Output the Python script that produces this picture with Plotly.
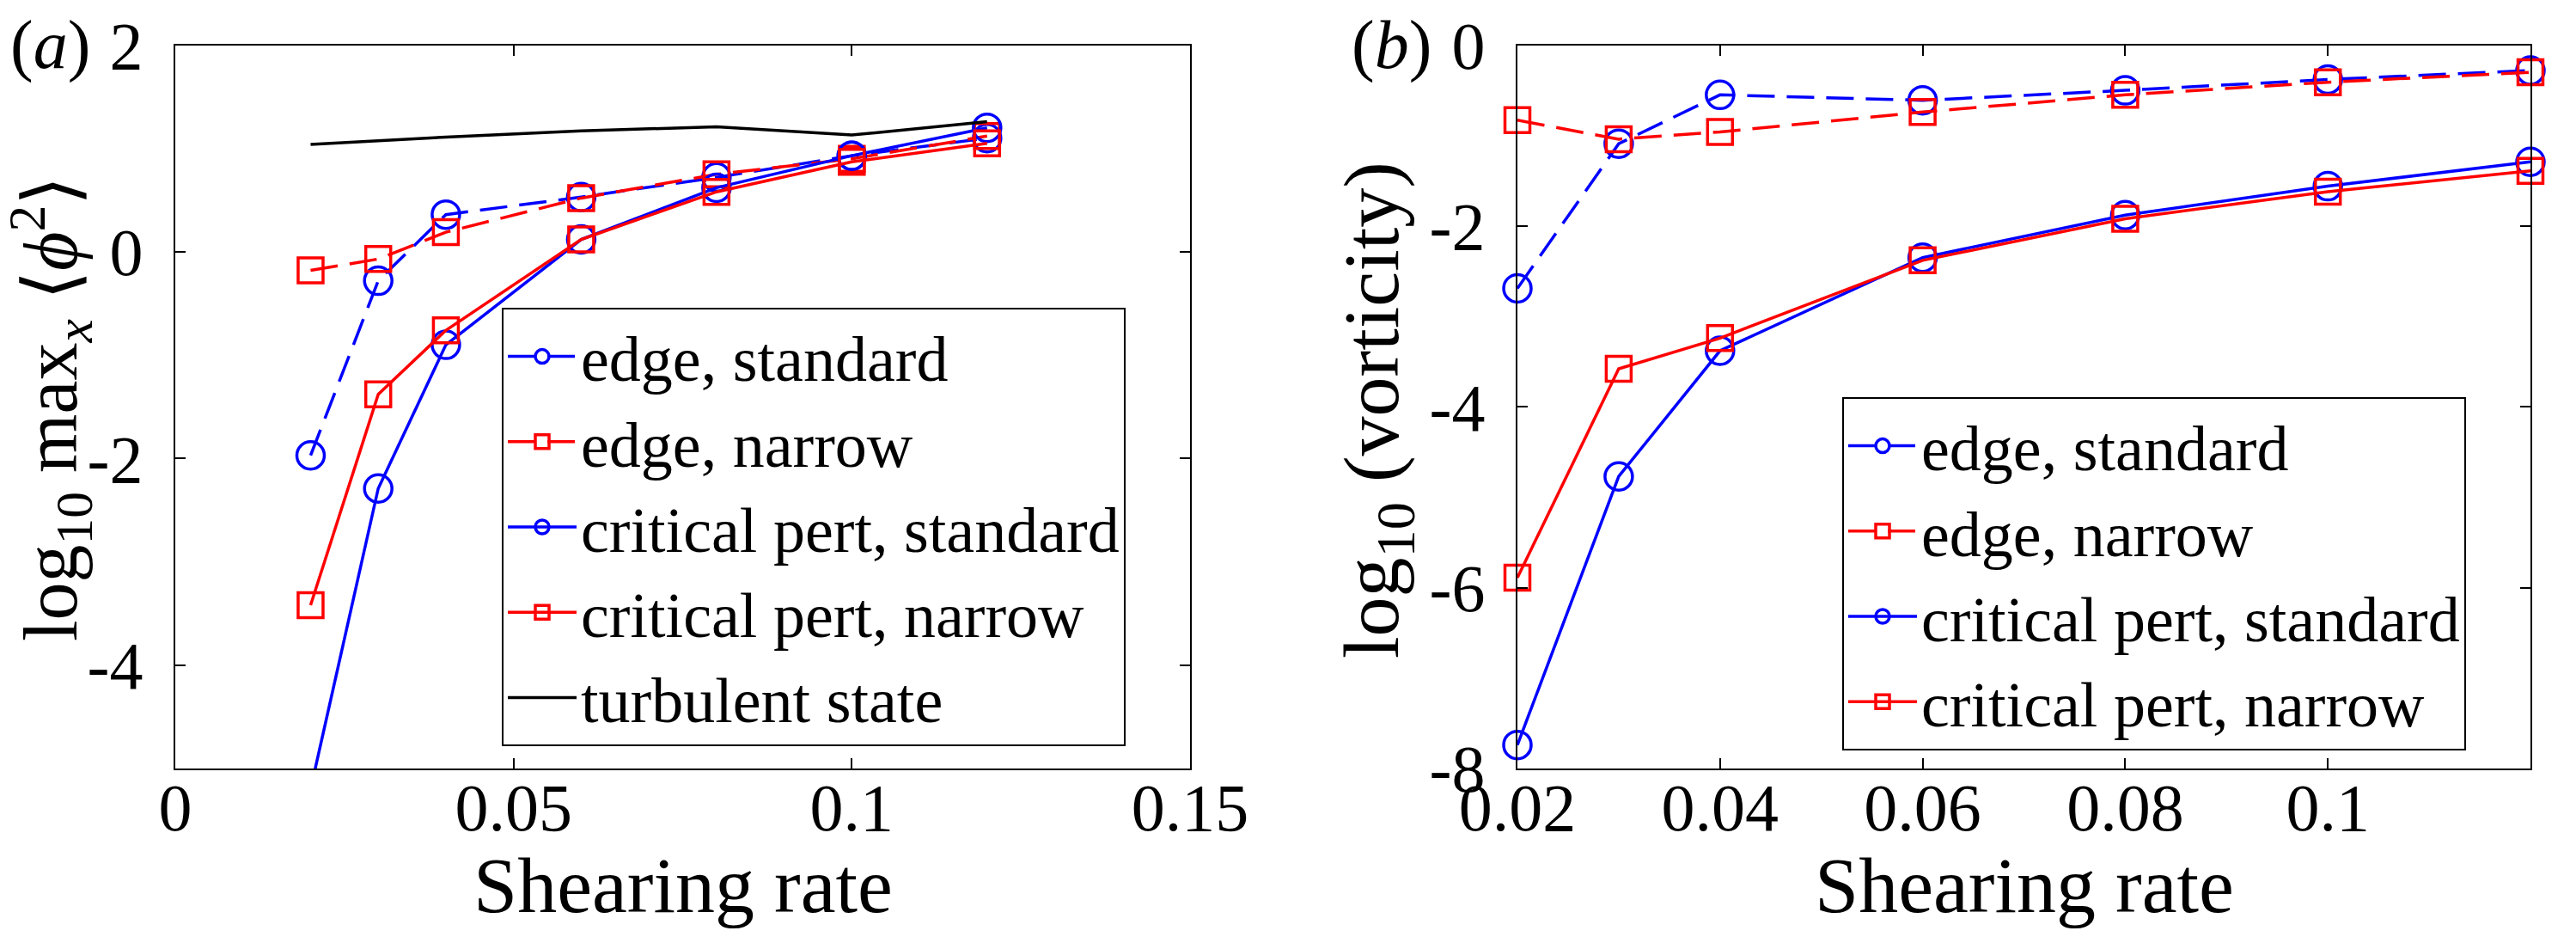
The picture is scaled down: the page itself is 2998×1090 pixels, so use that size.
import plotly.graph_objects as go

# shearing rates
shear = [0.02, 0.03, 0.04, 0.06, 0.08, 0.10, 0.12]
turb_shear = [0.02, 0.04, 0.06, 0.08, 0.10, 0.12]

# (a) log10 max_x <phi^2>
a_edge_std = [-1.97, -0.28, 0.36, 0.53, 0.72, 0.93, 1.10]
a_edge_narrow = [-0.18, -0.07, 0.19, 0.52, 0.75, 0.90, 1.12]
a_crit_std = [-5.2, -2.29, -0.90, 0.12, 0.62, 0.93, 1.20]
a_crit_narrow = [-3.42, -1.38, -0.76, 0.12, 0.58, 0.87, 1.05]
a_turb = [1.04, 1.11, 1.17, 1.21, 1.13, 1.26]

# (b) log10 (vorticity)
b_edge_std = [-2.69, -1.09, -0.55, -0.61, -0.50, -0.38, -0.28]
b_edge_narrow = [-0.83, -1.04, -0.96, -0.74, -0.55, -0.41, -0.30]
b_crit_std = [-7.74, -4.77, -3.38, -2.35, -1.88, -1.56, -1.29]
b_crit_narrow = [-5.89, -3.58, -3.24, -2.38, -1.92, -1.62, -1.39]

names = ["edge, standard", "edge, narrow", "critical pert, standard", "critical pert, narrow"]

xa_ticks = [0, 0.05, 0.1, 0.15]
xa_text = ["0", "0.05", "0.1", "0.15"]
ya_ticks = [2, 0, -2, -4]
ya_text = ["2", "0", "-2", "-4"]
xb_ticks = [0.02, 0.04, 0.06, 0.08, 0.1]
xb_text = ["0.02", "0.04", "0.06", "0.08", "0.1"]
yb_ticks = [0, -2, -4, -6, -8]
yb_text = ["0", "-2", "-4", "-6", "-8"]

W, H = 2998, 1090
FONT = "Liberation Serif"
BLUE = "#0000ff"
RED = "#ff0000"
DASH = "32px,14px"

styles = [
    dict(color=BLUE, dash=DASH, symbol="circle-open", size=32),
    dict(color=RED, dash=DASH, symbol="square-open", size=29),
    dict(color=BLUE, dash="solid", symbol="circle-open", size=32),
    dict(color=RED, dash="solid", symbol="square-open", size=29),
]

fig = go.Figure()

# panel (a)
for ys, name, st in zip([a_edge_std, a_edge_narrow, a_crit_std, a_crit_narrow], names, styles):
    fig.add_trace(go.Scatter(
        x=shear, y=ys, name=name, mode="lines+markers",
        line=dict(color=st["color"], width=3.5, dash=st["dash"]),
        marker=dict(symbol=st["symbol"], size=st["size"], color=st["color"],
                    line=dict(color=st["color"], width=3.5)),
        xaxis="x", yaxis="y", legend="legend"))
fig.add_trace(go.Scatter(
    x=turb_shear, y=a_turb, name="turbulent state", mode="lines",
    line=dict(color="black", width=3.5), xaxis="x", yaxis="y", legend="legend"))

# panel (b)
for ys, name, st in zip([b_edge_std, b_edge_narrow, b_crit_std, b_crit_narrow], names, styles):
    fig.add_trace(go.Scatter(
        x=shear, y=ys, name=name, mode="lines+markers", cliponaxis=False,
        line=dict(color=st["color"], width=3.5, dash=st["dash"]),
        marker=dict(symbol=st["symbol"], size=st["size"], color=st["color"],
                    line=dict(color=st["color"], width=3.5)),
        xaxis="x2", yaxis="y2", legend="legend2"))

axis_common = dict(showline=True, mirror="ticks", linecolor="black", linewidth=2,
                   ticks="inside", ticklen=12, tickwidth=2, tickcolor="black",
                   showgrid=False, zeroline=False,
                   tickfont=dict(family=FONT, size=78, color="black"))

ydom = [1 - 886 / H, 1 - 44.5 / H]
legend_common = dict(xanchor="left", yanchor="top", bgcolor="white", bordercolor="black",
                     borderwidth=2, font=dict(family=FONT, size=74, color="black"),
                     itemwidth=80, tracegroupgap=0)
fig.update_layout(
    width=W, height=H,
    margin=dict(l=0, r=0, t=0, b=0, autoexpand=False),
    paper_bgcolor="white", plot_bgcolor="white",
    font=dict(family=FONT, color="black"),
    xaxis=dict(domain=[196 / W, 1377 / W], range=[0, 0.15], tickvals=xa_ticks, ticktext=xa_text,
               anchor="y", ticklabelstandoff=-24, **axis_common),
    yaxis=dict(domain=ydom, range=[-5, 2], tickvals=ya_ticks, ticktext=ya_text,
               anchor="x", ticklabelstandoff=20, **axis_common),
    xaxis2=dict(domain=[1758 / W, 2937 / W], range=[0.02, 0.12], tickvals=xb_ticks, ticktext=xb_text,
                anchor="y2", ticklabelstandoff=-24, **axis_common),
    yaxis2=dict(domain=ydom, range=[-8, 0], tickvals=yb_ticks, ticktext=yb_text,
                anchor="x2", ticklabelstandoff=20, **axis_common),
    legend=dict(x=576 / W, y=1 - 350 / H, **legend_common),
    legend2=dict(x=2136 / W, y=1 - 454 / H, **legend_common),
    showlegend=True,
)

ann = dict(xref="paper", yref="paper", showarrow=False, font=dict(family=FONT, size=92, color="black"))
fig.add_annotation(text="Shearing rate", x=786.5 / W, y=1 - 1022 / H, xanchor="center", yanchor="middle", **ann)
fig.add_annotation(text="Shearing rate", x=2347.5 / W, y=1 - 1022 / H, xanchor="center", yanchor="middle", **ann)
fig.add_annotation(text="log<sub>10</sub> max<sub><i>x</i></sub> ⟨<i>ϕ</i><sup>2</sup>⟩",
                   x=50 / W, y=1 - 468 / H, textangle=-90, xanchor="center", yanchor="middle",
                   xref="paper", yref="paper", showarrow=False,
                   font=dict(family=FONT, size=88, color="black"))
fig.add_annotation(text="log<sub>10</sub> (vorticity)",
                   x=1594 / W, y=1 - 469 / H, textangle=-90, xanchor="center", yanchor="middle", **ann)
fig.add_annotation(text="(<i>a</i>)", x=50 / W, y=1 - 44 / H, xanchor="center", yanchor="middle",
                   xref="paper", yref="paper", showarrow=False, font=dict(family=FONT, size=80, color="black"))
fig.add_annotation(text="(<i>b</i>)", x=1612 / W, y=1 - 44 / H, xanchor="center", yanchor="middle",
                   xref="paper", yref="paper", showarrow=False, font=dict(family=FONT, size=80, color="black"))

fig.write_html("out.html")
